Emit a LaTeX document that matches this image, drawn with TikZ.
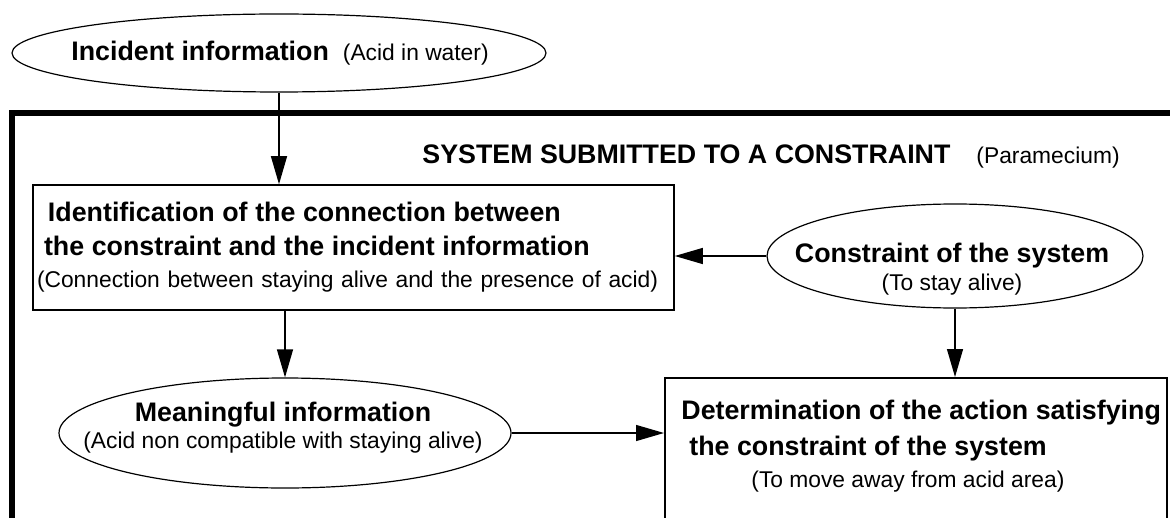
\documentclass[tikz,border=0pt]{standalone}
\usepackage{fontspec}
\setmainfont{Liberation Sans}
\usetikzlibrary{shapes.geometric}
\usetikzlibrary{arrows.meta}

\newcommand{\headtext}[1]{{\fontsize{13.4}{17}\selectfont\bfseries #1}}

\begin{document}
\begin{tikzpicture}
[x=0.5pt,y=-0.5pt,%
  every node/.style={font=\fontsize{11.4}{16}\selectfont},%
  bubble/.style={shape=ellipse,draw,line width=0.6pt,inner sep=0pt},%
  panel/.style={shape=rectangle,draw,line width=0.8pt,inner sep=0pt},%
  link/.style={-{Triangle[length=14pt,width=8pt]},line width=0.65pt}]
\useasboundingbox (0,0) rectangle (1170,518);
\clip (0,0) rectangle (1170,518);
%% the system frame, open to the right and below
\draw[line width=2.8pt] (1190,113) -- (12,113) -- (12,540);
\node (title) at (771,157)
  {\headtext{SYSTEM SUBMITTED TO A CONSTRAINT}\hspace{13pt}(Paramecium)};
%%
\node[bubble,minimum width=267pt,minimum height=39pt] (incident) at (279,53) {};
\node (incidentText) at (280,53)
  {\headtext{Incident information}\hspace{7pt}(Acid in water)};
%%
\node[panel,minimum width=320.5pt,minimum height=62.5pt,
  text width=316.5pt,inner xsep=2pt,align=left] (ident) at (353.5,247.5)
  {\hspace*{5.5pt}\headtext{Identification of the connection between}\\[1pt]
   \hspace*{3.5pt}\headtext{the constraint and the incident information}\\
   (Connection between staying alive and the presence of acid)};
%%
\node[bubble,minimum width=188pt,minimum height=52pt] (limit) at (955,256) {};
\node[align=center] (limitText) at (952,269)
  {\headtext{Constraint of the system}\\[-2pt](To stay alive)};
%%
\node[bubble,minimum width=226pt,minimum height=55pt] (meaning) at (285,433) {};
\node[align=center] (meaningText) at (283,428)
  {\headtext{Meaningful information}\\[-2.5pt](Acid non compatible with staying alive)};
%%
\node[panel,anchor=north west,minimum width=251pt,minimum height=100pt] (act) at (664,377) {};
\node[align=left,inner sep=0pt,anchor=west] (actText) at (681,446)
  {\headtext{Determination of the action satisfying}\\[2pt]
   \hspace*{4pt}\headtext{the constraint of the system}\\
   \hspace*{35pt}(To move away from acid area)};
%%
\path
\foreach \startNode/\endNode in {incident.south/incident.south |- ident.north,
  ident.south -| meaning.north/meaning.north,
  limit.west/limit.west -| ident.east,
  limit.south/limit.south |- act.north,
  meaning.east/meaning.east -| act.west}
{
  (\startNode) edge[link] (\endNode)
};
\end{tikzpicture}
\end{document}
